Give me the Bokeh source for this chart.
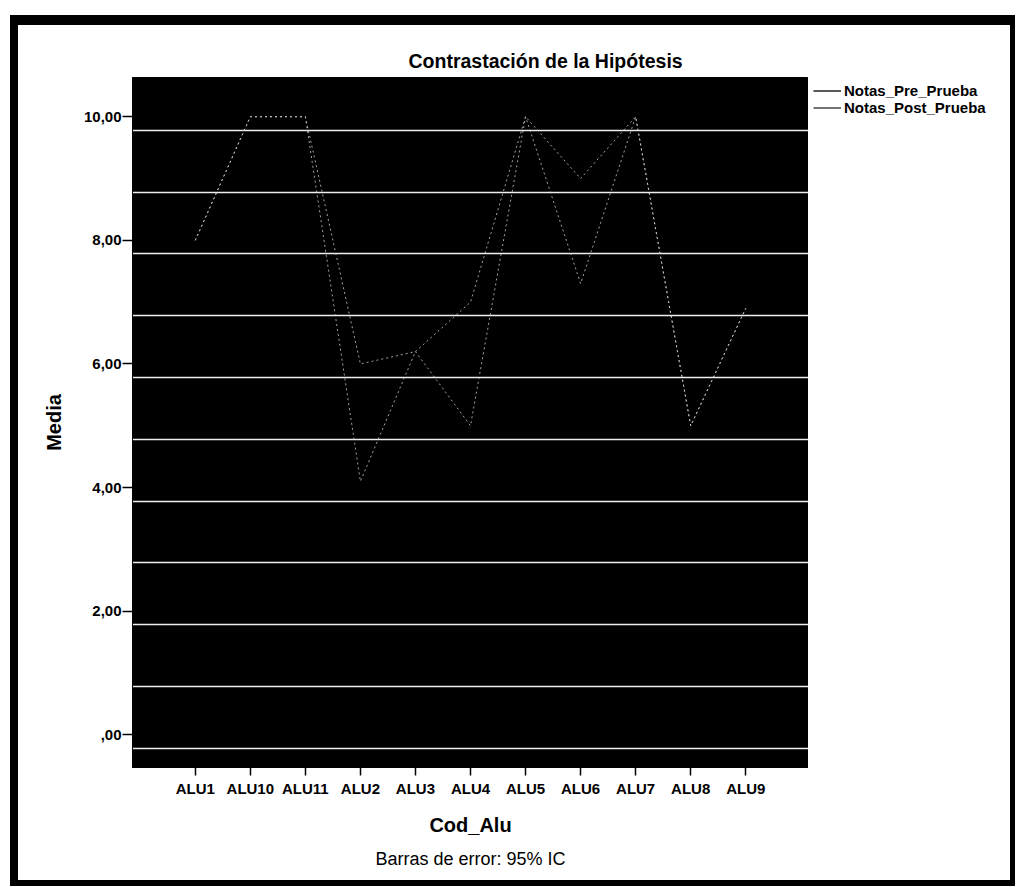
from bokeh.plotting import figure
from bokeh.layouts import row
from bokeh.models import (FactorRange, Range1d, FixedTicker, Legend, LegendItem, Title)
from bokeh.embed import file_html
from bokeh.resources import INLINE

# ---- data ----
categories = ["ALU1", "ALU10", "ALU11", "ALU2", "ALU3", "ALU4", "ALU5", "ALU6", "ALU7", "ALU8", "ALU9"]
notas_post = [8.0, 10.0, 10.0, 6.0, 6.2, 7.0, 10.0, 9.0, 10.0, 5.0, 6.9]
notas_pre = [8.0, 10.0, 10.0, 4.1, 6.2, 5.0, 10.0, 7.3, 10.0, 5.0, 6.9]
y_ticks = [0, 2, 4, 6, 8, 10]
y_tick_labels = [",00", "2,00", "4,00", "6,00", "8,00", "10,00"]
series_names = ["Notas_Pre_Prueba", "Notas_Post_Prueba"]

FONT = "Liberation Sans"
H = 855
NAN = float("nan")

p = figure(
    width=790, height=H,
    x_range=FactorRange(*categories, range_padding=0.64, range_padding_units="absolute"),
    y_range=Range1d(-0.53, 10.635),
    output_backend="svg", toolbar_location=None,
    min_border_left=114, min_border_top=52, min_border_right=0, min_border_bottom=113,
)

p.background_fill_color = "#000000"
p.border_fill_color = "#ffffff"
p.outline_line_color = "#000000"

# title
p.title.text = "Contrastación de la Hipótesis"
p.title.align = "left"
p.title.offset = 276
p.title.standoff = 12
p.title.text_font = FONT
p.title.text_font_style = "bold"
p.title.text_font_size = "19.5px"
p.title.text_color = "black"

# grid
p.xgrid.grid_line_color = None
p.ygrid.ticker = FixedTicker(ticks=[k - 0.22 for k in range(11)])
p.ygrid.grid_line_color = "#eeeeee"
p.ygrid.grid_line_width = 1.3

# y axis
p.yaxis.ticker = FixedTicker(ticks=y_ticks)
p.yaxis.major_label_overrides = {t: l for t, l in zip(y_ticks, y_tick_labels)}
p.yaxis.minor_tick_line_color = None
p.yaxis.major_tick_out = 10
p.yaxis.major_tick_in = 0
p.yaxis.major_tick_line_width = 1.5
p.yaxis.major_tick_line_color = "black"
p.yaxis.axis_line_color = "black"
p.yaxis.major_label_standoff = 1
p.yaxis.major_label_text_font = FONT
p.yaxis.major_label_text_font_style = "bold"
p.yaxis.major_label_text_font_size = "15px"
p.yaxis.major_label_text_color = "black"
p.yaxis.axis_label = "Media"
p.yaxis.axis_label_text_font = FONT
p.yaxis.axis_label_text_font_style = "bold"
p.yaxis.axis_label_text_font_size = "20px"
p.yaxis.axis_label_text_color = "black"
p.yaxis.axis_label_standoff = 16

# x axis
p.xaxis.major_tick_out = 8
p.xaxis.major_tick_in = 0
p.xaxis.major_tick_line_width = 1.5
p.xaxis.major_tick_line_color = "black"
p.xaxis.axis_line_color = "black"
p.xaxis.major_label_standoff = 4
p.xaxis.major_label_text_font = FONT
p.xaxis.major_label_text_font_style = "bold"
p.xaxis.major_label_text_font_size = "15px"
p.xaxis.major_label_text_color = "black"
p.xaxis.axis_label = "Cod_Alu"
p.xaxis.axis_label_text_font = FONT
p.xaxis.axis_label_text_font_style = "bold"
p.xaxis.axis_label_text_font_size = "20px"
p.xaxis.axis_label_text_color = "black"
p.xaxis.axis_label_standoff = 14

# footnote below the x axis
p.add_layout(Title(text="Barras de error: 95% IC", align="center", standoff=16,
                   text_font=FONT, text_font_style="normal", text_font_size="18px",
                   text_color="black"), "below")

# data lines (faint, as in the scan)
p.line(categories, notas_pre, line_color="#d8d8d8", line_alpha=0.75, line_width=1, line_dash="2 3")
p.line(categories, notas_post, line_color="#d8d8d8", line_alpha=0.75, line_width=1, line_dash="2 3")

# ---- legend panel on the right ----
pl = figure(width=202, height=H, output_backend="svg", toolbar_location=None,
            x_range=Range1d(0, 1), y_range=Range1d(0, 1),
            x_axis_type=None, y_axis_type=None,
            min_border_left=0, min_border_right=0, min_border_top=52, min_border_bottom=113)
pl.grid.visible = False
pl.outline_line_color = None
pl.background_fill_color = "#ffffff"
pl.border_fill_color = "#ffffff"
# legend sample renderers: a single NaN point, so nothing is drawn in the panel itself
r_pre = pl.line(x=[NAN], y=[NAN], line_color="#222222", line_width=1.5)
r_post = pl.line(x=[NAN], y=[NAN], line_color="#444444", line_width=1.5)
legend = Legend(items=[LegendItem(label=series_names[0], renderers=[r_pre]),
                       LegendItem(label=series_names[1], renderers=[r_post])],
                location="top_left", orientation="vertical",
                glyph_width=28, glyph_height=17, label_height=17, label_standoff=3,
                spacing=0, padding=0, margin=5,
                border_line_color=None, background_fill_alpha=0,
                label_text_font=FONT, label_text_font_style="bold",
                label_text_font_size="15px", label_text_color="black")
pl.add_layout(legend, "center")

layout = row(p, pl, spacing=0)
layout.styles = {"border-style": "solid", "border-color": "black",
                 "border-width": "10px 5px 6px 8px", "margin": "15px 0 0 10px"}
open("out.html", "w").write(file_html(layout, INLINE))
